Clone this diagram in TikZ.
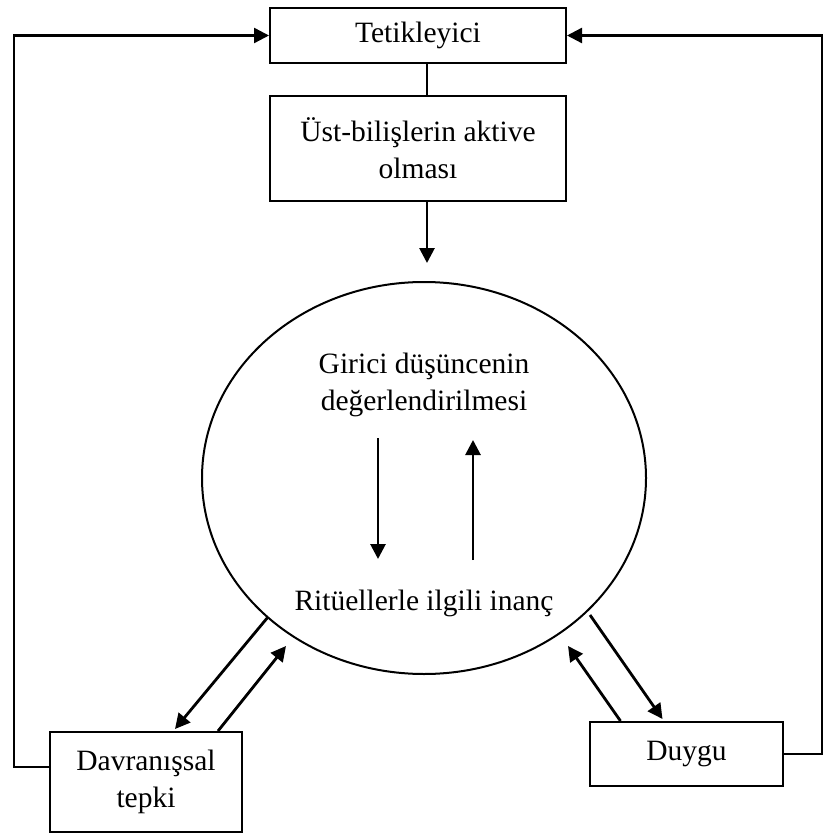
\documentclass[tikz,border=0pt]{standalone}
\usepackage{fontspec}
\setmainfont{Liberation Serif}
\usetikzlibrary{arrows.meta,positioning,shapes.geometric,calc}

\begin{document}
\begin{tikzpicture}[x=1pt, y=-1pt,
    % --- styles ---
    box/.style={draw, line width=2pt, rectangle, inner sep=0pt, align=center, font=\fontsize{29.5}{37}\selectfont},
    plain text/.style={align=center, font=\fontsize{29.5}{37}\selectfont},
    % filled arrow
    flow/.style={line width=2.8pt, -{Triangle[length=15pt, width=15pt]}},
    link/.style={line width=2.2pt}
]
    \useasboundingbox (0,0) rectangle (824,834);

    % --- 1. boxes ---
    \node[box, minimum width=296pt, minimum height=55pt] (trig) at (418,35.5) {Tetikleyici};
    \node[box, minimum width=296pt, minimum height=105pt] (meta) at (418,148.5) {Üst-bilişlerin aktive\\olması};
    \node[box, minimum width=192pt, minimum height=100pt] (davr) at (146,782) {Davranışsal\\tepki};
    \node[box, minimum width=193pt, minimum height=64pt] (duygu) at (686.5,754) {Duygu};

    % --- 2. ellipse and its texts ---
    \node[draw, ellipse, line width=2pt, minimum width=444pt, minimum height=392pt, inner sep=0pt] (cycle) at (424,478) {};
    \node[plain text] (thought) at (424,385) {Girici düşüncenin\\değerlendirilmesi};
    \node[plain text] (belief) at (424,603) {Ritüellerle ilgili inanç};

    % --- 3. key points ---
    \coordinate (top_tip) at (427,263);
    \coordinate (down_start) at (378,438);
    \coordinate (down_end) at (378,559);
    \coordinate (up_start) at (473,560);
    \coordinate (up_end) at (473,440);
    \coordinate (davr_out) at (268,617);
    \coordinate (davr_in) at (286,646);
    \coordinate (duygu_in) at (568,646);
    \coordinate (duygu_out) at (590,615);
    \coordinate (left_corner) at (14,767);
    \coordinate (right_corner) at (822,754);

    % --- 4. connectors ---
    \draw[link] ([xshift=9pt]trig.south) -- ([xshift=9pt]meta.north);
    \draw[flow] ([xshift=9pt]meta.south) -- (top_tip);

    \draw[flow] (down_start) -- (down_end);
    \draw[flow] (up_start) -- (up_end);

    \draw[flow] (davr_out) -- ([xshift=29pt, yshift=2pt]davr.north);
    \draw[flow] ([xshift=72pt]davr.north) -- (davr_in);
    \draw[flow] ([xshift=-66pt]duygu.north) -- (duygu_in);
    \draw[flow] (duygu_out) -- ([xshift=-24pt, yshift=2pt]duygu.north);

    % feedback loops
    \draw[flow, line width=2.4pt] (left_corner -| davr.west) -- (left_corner) |- (trig.west);
    \draw[flow, line width=2.4pt] (duygu.east) -- (right_corner) |- (trig.east);

\end{tikzpicture}
\end{document}
